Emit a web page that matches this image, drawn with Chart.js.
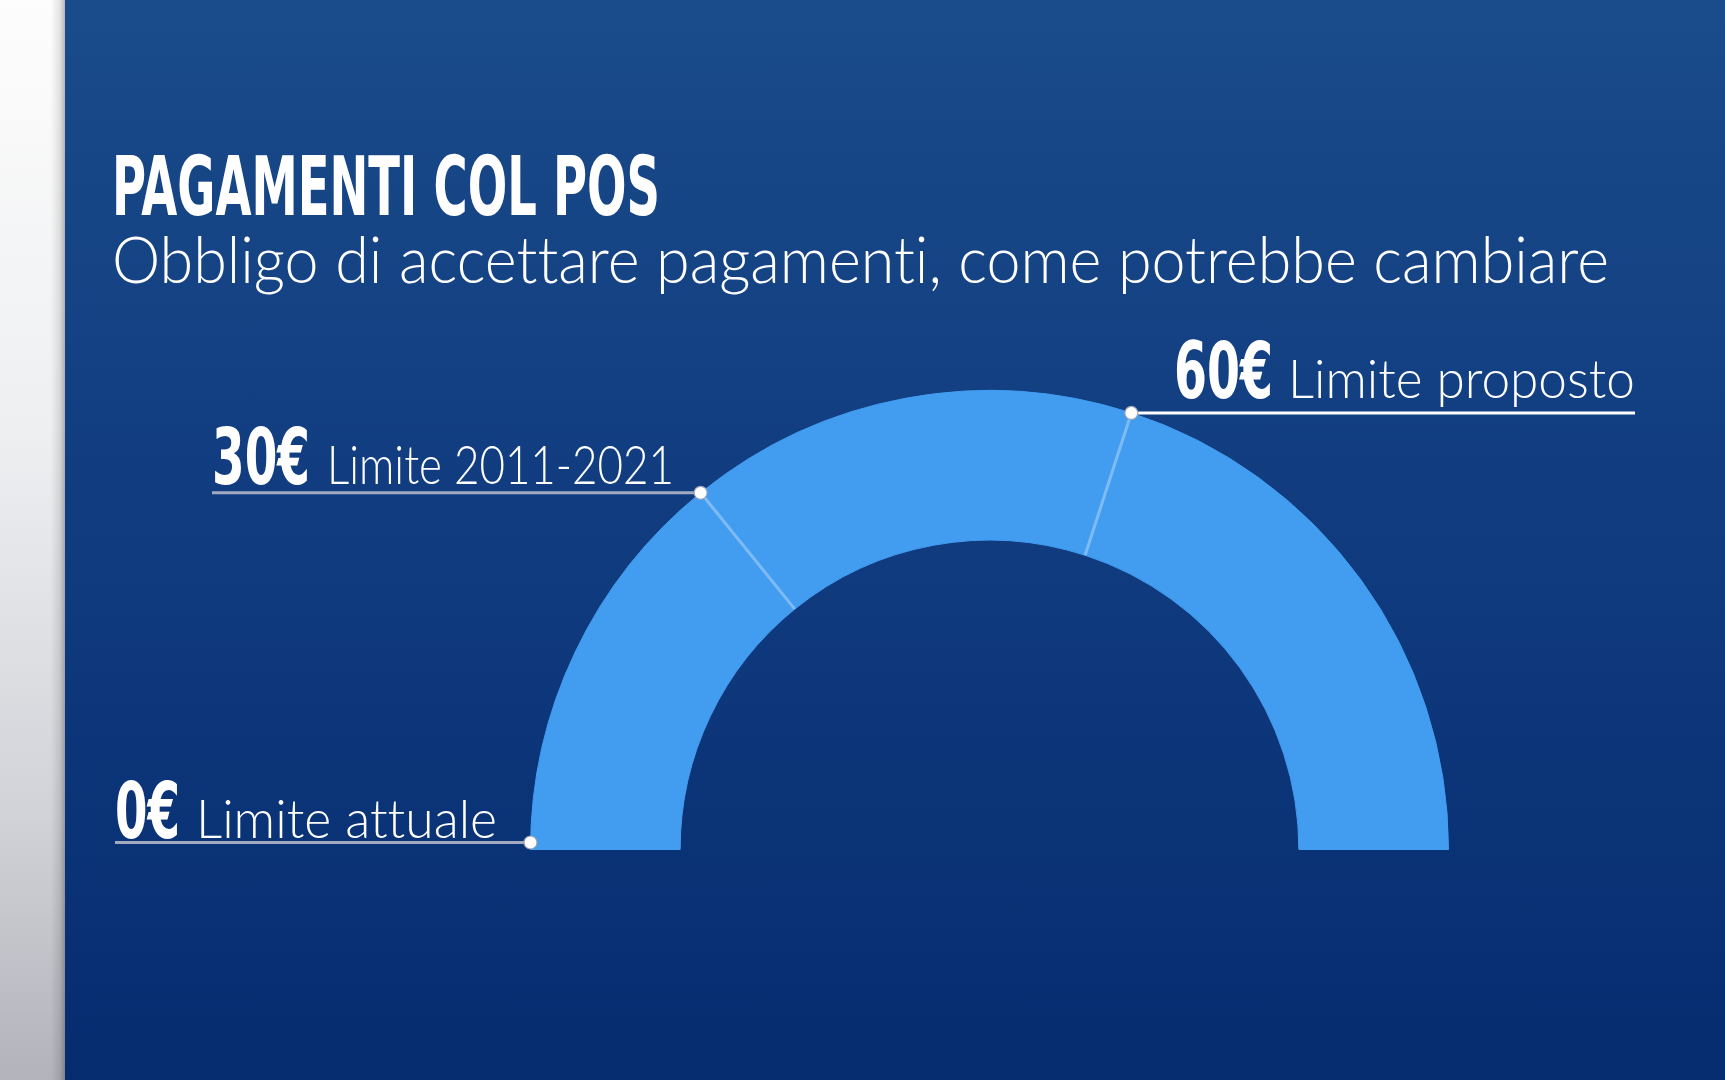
<!DOCTYPE html>
<html>
<head>
<meta charset="utf-8">
<script src="https://cdn.jsdelivr.net/npm/chart.js@4"></script>
<style>
  html, body { margin:0; padding:0; }
  body {
    width:1725px; height:1080px; overflow:hidden; position:relative;
    background: linear-gradient(to bottom, #1a4b8a 0%, #113d80 45%, #062c70 100%);
  }
  #strip {
    position:absolute; left:0; top:0; width:65px; height:1080px;
    background:
      linear-gradient(to right, rgba(0,0,0,0) 0%, rgba(0,0,0,0) 78%, rgba(0,0,0,0.10) 92%, rgba(0,0,0,0.28) 100%),
      linear-gradient(to bottom, #fdfdfd 0%, #eeeff1 40%, #d2d3d8 75%, #b3b4bb 100%);
  }
  #c { position:absolute; left:0; top:0; }
  .lbl { position:absolute; white-space:nowrap; color:#fff; display:inline-block; transform-origin:0 0; line-height:1.2;
         font-variant-ligatures:none; font-feature-settings:"liga" 0, "clig" 0; }
  .bl { display:inline-block; width:0; height:0; vertical-align:baseline; }
  .cond { font-family:"Liberation Sans Narrow","DejaVu Sans Condensed","Roboto",sans-serif; font-weight:700; }
  .reg { font-family:"Lato","Open Sans","Noto Sans",sans-serif; font-weight:300; }
</style>
</head>
<body>
<div id="strip"></div>
<canvas id="c" width="1725" height="1080"></canvas>
<script>
// ---- data ----
const titleText = 'PAGAMENTI COL POS';
const subtitleText = 'Obbligo di accettare pagamenti, come potrebbe cambiare';
const segmentLabels = ['0€ – 30€', '30€ – 60€', 'oltre 60€'];
const segmentSizes = [51, 57, 72];            // arc extent of each segment
const markerValues = ['0€', '30€', '60€'];
const markerTexts = ['Limite attuale', 'Limite 2011-2021', 'Limite proposto'];
const markerSegment = [0, 1, 2];               // marker sits at the start of this segment

// ---- styles / layout ----
const arcColor = '#429cf0';
const leaderEnd = [115, 212, 1635];            // far end of each leader line
const leaderColor = ['#a3aac0', '#a3aac0', '#ffffff'];
const textLayout = [
  {num:{x:115, base:838, w:65,  size:78}, txt:{x:196,  base:838, w:301, size:53}},
  {num:{x:212, base:484, w:98,  size:78}, txt:{x:327,  base:484, w:347, size:53}},
  {num:{x:1174,base:398, w:99,  size:78}, txt:{x:1288, base:398, w:347, size:53}}
];

function addLabel(text, cls, x, base, w, size){
  const d = document.createElement('div');
  d.className = 'lbl ' + cls;
  d.style.fontSize = size + 'px';
  d.style.left = x + 'px';
  d.style.top = '0px';
  d.appendChild(document.createTextNode(text));
  const s = document.createElement('span'); s.className = 'bl'; d.appendChild(s);
  document.body.appendChild(d);
  const r = d.getBoundingClientRect();
  const sb = s.getBoundingClientRect();
  const off = sb.bottom - r.top;
  d.style.top = (base - off) + 'px';
  const sc = w / r.width;
  d.style.transform = 'scaleX(' + sc + ')';
}

addLabel(titleText, 'cond', 112, 215, 548, 82);
addLabel(subtitleText, 'reg', 112, 283, 1497, 65);
markerValues.forEach((v,i)=>{
  const L = textLayout[i];
  addLabel(v, 'cond', L.num.x, L.num.base, L.num.w, L.num.size);
  addLabel(markerTexts[i], 'reg', L.txt.x, L.txt.base, L.txt.w, L.txt.size);
});

const markerPlugin = {
  id: 'markers',
  afterDatasetsDraw(chart){
    const ctx = chart.ctx;
    const meta = chart.getDatasetMeta(0);
    ctx.save();
    // dividers between segments
    meta.data.forEach((arc, i) => {
      if (i === 0) return;
      const p = arc.getProps(['x','y','startAngle','outerRadius','innerRadius'], true);
      const c = Math.cos(p.startAngle), s = Math.sin(p.startAngle);
      ctx.beginPath();
      ctx.moveTo(p.x + c*p.innerRadius, p.y + s*p.innerRadius);
      ctx.lineTo(p.x + c*p.outerRadius, p.y + s*p.outerRadius);
      ctx.strokeStyle = 'rgba(255,255,255,0.32)';
      ctx.lineWidth = 3;
      ctx.stroke();
    });
    // leader lines + dots
    markerSegment.forEach((si, i) => {
      const arc = meta.data[si];
      const p = arc.getProps(['x','y','startAngle','outerRadius'], true);
      const px = p.x + Math.cos(p.startAngle)*p.outerRadius;
      const py = p.y + Math.sin(p.startAngle)*p.outerRadius - (i === 0 ? 7 : 0);
      ctx.beginPath();
      ctx.moveTo(leaderEnd[i], py);
      ctx.lineTo(px, py);
      ctx.strokeStyle = leaderColor[i];
      ctx.lineWidth = 3;
      ctx.stroke();
      ctx.beginPath();
      ctx.arc(px, py, 6.5, 0, Math.PI*2);
      ctx.fillStyle = '#ffffff';
      ctx.fill();
      ctx.strokeStyle = '#9aa3b8';
      ctx.lineWidth = 1.2;
      ctx.stroke();
    });
    ctx.restore();
  }
};

new Chart(document.getElementById('c'), {
  type: 'doughnut',
  data: {
    labels: segmentLabels,
    datasets: [{
      data: segmentSizes,
      backgroundColor: arcColor,
      borderColor: arcColor,
      borderWidth: 1,
      hoverOffset: 0
    }]
  },
  options: {
    responsive: false,
    animation: false,
    rotation: -90,
    circumference: 180,
    cutout: '67.4%',
    layout: { padding: { left: 529, right: 275, top: 390, bottom: 230 } },
    plugins: { legend: { display: false }, tooltip: { enabled: false } },
    events: []
  },
  plugins: [markerPlugin]
});
</script>
</body>
</html>
